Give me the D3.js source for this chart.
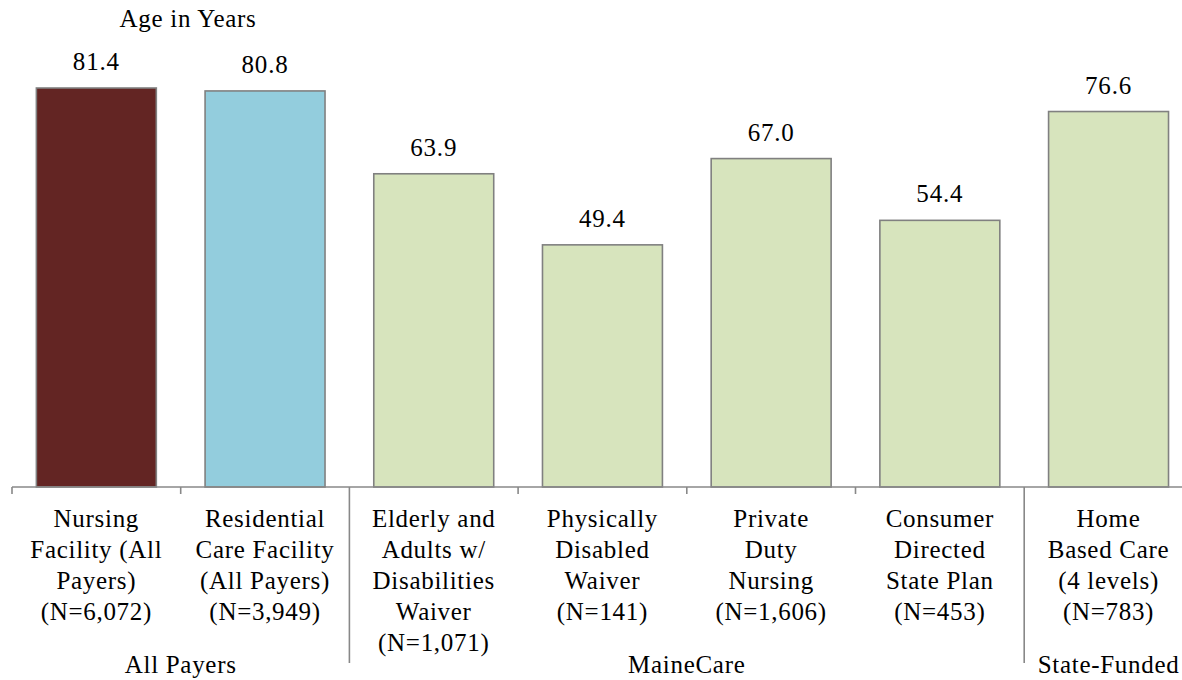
<!DOCTYPE html>
<html><head><meta charset="utf-8">
<script src="https://cdn.jsdelivr.net/npm/d3@7"></script>
<style>html,body{margin:0;padding:0;background:#fff;overflow:hidden}</style>
</head><body><svg id="c" width="1182" height="680"></svg>
<script>
const categories = [
  ["Nursing","Facility (All","Payers)","(N=6,072)"],
  ["Residential","Care Facility","(All Payers)","(N=3,949)"],
  ["Elderly and","Adults w/","Disabilities","Waiver","(N=1,071)"],
  ["Physically","Disabled","Waiver","(N=141)"],
  ["Private","Duty","Nursing","(N=1,606)"],
  ["Consumer","Directed","State Plan","(N=453)"],
  ["Home","Based Care","(4 levels)","(N=783)"]
];
const values = [81.4, 80.8, 63.9, 49.4, 67.0, 54.4, 76.6];
const colors = ["#632523", "#93CDDD", "#D7E4BD", "#D7E4BD", "#D7E4BD", "#D7E4BD", "#D7E4BD"];
const groupNames = ["All Payers", "MaineCare", "State-Funded"];
const groupSizes = [2, 4, 1];
const yTitle = "Age in Years";

const svg = d3.select("#c");
const FONT = '"Liberation Serif", "Times New Roman", Tinos, serif';
const fs = 25;
const x0 = 12, step = 168.7, n = categories.length;
const x = d3.scaleBand().domain(d3.range(n)).range([x0, x0 + step * n])
  .paddingInner(0.289).paddingOuter(0.1445);
const base = 487;
const y = d3.scaleLinear().domain([0, 81.4]).range([base, 88]);

function txt(sel) {
  return sel.style("font-family", FONT).attr("font-size", fs).attr("fill", "#000")
    .attr("text-anchor", "middle").style("letter-spacing", "0.7px");
}

txt(svg.append("text")).attr("x", 188).attr("y", 27).text(yTitle);

svg.selectAll("rect.bar").data(values).join("rect").attr("class", "bar")
  .attr("x", (d, i) => x(i)).attr("width", x.bandwidth())
  .attr("y", d => y(d)).attr("height", d => y(0) - y(d))
  .attr("fill", (d, i) => colors[i]).attr("stroke", "#808080").attr("stroke-width", 1.6);

txt(svg.selectAll("text.val").data(values).join("text").attr("class", "val"))
  .attr("x", (d, i) => x(i) + x.bandwidth() / 2).attr("y", d => y(d) - 18)
  .style("letter-spacing", "0.8px").text(d => d.toFixed(1));

const axisColor = "#888";
svg.append("line").attr("x1", x0).attr("x2", x0 + step * n).attr("y1", base).attr("y2", base)
  .attr("stroke", axisColor).attr("stroke-width", 1.6);

const bounds = [0]; groupSizes.forEach(s => bounds.push(bounds[bounds.length - 1] + s));
const bandStart = i => x0 + step * i;
d3.range(n).forEach(i => {
  const isGroup = bounds.includes(i) && i > 0;
  svg.append("line").attr("x1", bandStart(i)).attr("x2", bandStart(i))
    .attr("y1", base).attr("y2", isGroup ? 663 : 494)
    .attr("stroke", axisColor).attr("stroke-width", 1.6);
});

categories.forEach((lines, i) => {
  const cx = x(i) + x.bandwidth() / 2;
  const t = txt(svg.append("text")).attr("x", cx).attr("y", 527);
  lines.forEach((l, k) => t.append("tspan").attr("x", cx).attr("y", 527 + k * 31).text(l));
});

groupNames.forEach((g, gi) => {
  const cx = (bandStart(bounds[gi]) + bandStart(bounds[gi + 1])) / 2;
  txt(svg.append("text")).attr("x", cx).attr("y", 673).text(g);
});
</script></body></html>
